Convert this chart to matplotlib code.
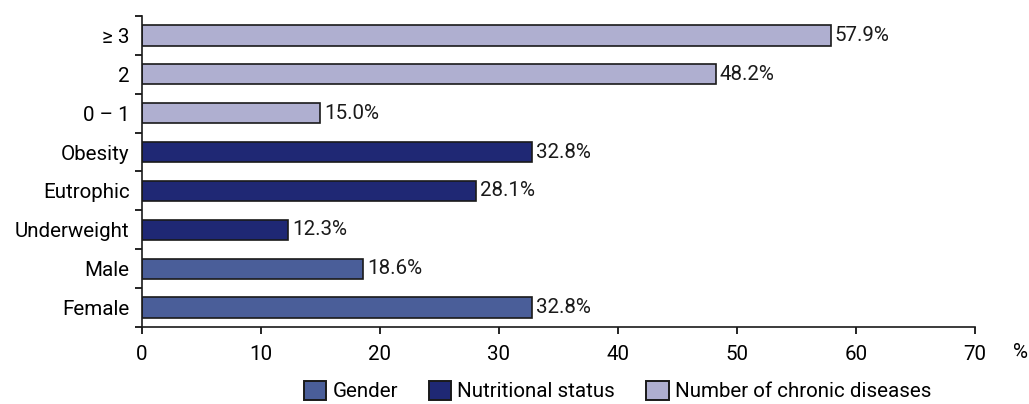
import matplotlib.pyplot as plt
from matplotlib.patches import Patch
import numpy as np

# data (bottom to top)
categories = ['Female', 'Male', 'Underweight', 'Eutrophic', 'Obesity', '0 – 1', '2', '≥ 3']
values = [32.8, 18.6, 12.3, 28.1, 32.8, 15.0, 48.2, 57.9]
groups = ['Gender', 'Gender', 'Nutritional status', 'Nutritional status', 'Nutritional status',
          'Number of chronic diseases', 'Number of chronic diseases', 'Number of chronic diseases']
group_names = ['Gender', 'Nutritional status', 'Number of chronic diseases']
group_colors = {'Gender': '#4a5e99', 'Nutritional status': '#1f2874',
                'Number of chronic diseases': '#afafd0'}

plt.rcParams['font.family'] = ['Roboto', 'DejaVu Sans']
plt.rcParams['font.size'] = 14.8

fig = plt.figure(figsize=(10.29, 4.04), dpi=100)
ax = fig.add_axes([0.138, 0.1906, 0.8095, 0.7698])

y = np.arange(len(categories))
colors = [group_colors[g] for g in groups]
ax.barh(y, values, height=0.52, color=colors, edgecolor='#1a1a1a', linewidth=1.2)

for yi, v in zip(y, values):
    ax.text(v + 0.3, yi, f'{v:.1f}%', va='center', ha='left', color='#1a1a1a')

ax.set_xlim(0, 70)
ax.set_ylim(-0.5, len(categories) - 0.5)
ax.set_xticks(range(0, 71, 10))
ax.set_yticks(y)
ax.set_yticklabels(categories)
ax.set_yticks(np.arange(-0.5, len(categories), 1), minor=True)
ax.tick_params(axis='y', which='major', length=0, pad=9)
ax.tick_params(axis='y', which='minor', length=5, width=1.2, direction='out')
ax.tick_params(axis='x', length=5, width=1.2, direction='out', pad=8)

for s in ['top', 'right']:
    ax.spines[s].set_visible(False)
for s in ['left', 'bottom']:
    ax.spines[s].set_linewidth(1.2)
    ax.spines[s].set_color('#1a1a1a')

fig.text(1020 / 1029, 1 - 353 / 404, '%', ha='center', va='center')

handles = [Patch(facecolor=group_colors[g], edgecolor='#1a1a1a', linewidth=1.4) for g in group_names]
fig.legend(handles, group_names, loc='center', bbox_to_anchor=(0.6, 0.032), ncol=3,
           frameon=False, handlelength=1.1, handleheight=1.1, handletextpad=0.3,
           columnspacing=1.5, borderpad=0)

fig.savefig('out.png', dpi=100)
